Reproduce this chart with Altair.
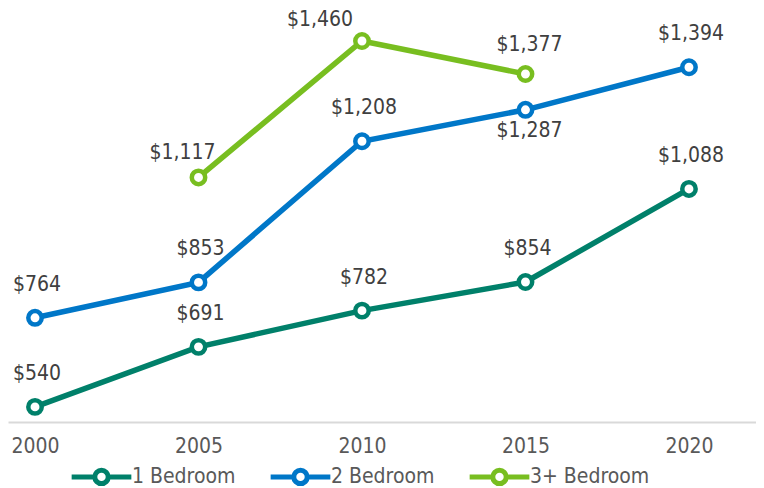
import altair as alt
import pandas as pd

years = [2000, 2005, 2010, 2015, 2020]
series_names = ["1 Bedroom", "2 Bedroom", "3+ Bedroom"]
one_bed = [540, 691, 782, 854, 1088]
two_bed = [764, 853, 1208, 1287, 1394]
three_bed = [None, 1117, 1460, 1377, None]
colors = ["#00806A", "#0077C8", "#78BE20"]

rows = []
for name, vals in zip(series_names, [one_bed, two_bed, three_bed]):
    for y, v in zip(years, vals):
        if v is not None:
            rows.append({"year": y, "series": name, "value": v})
df = pd.DataFrame(rows)

FONT = "DejaVu Sans Condensed, Noto Sans"
FS = 21

x = alt.X("year:Q",
          scale=alt.Scale(domain=[1999.174, 2022.05], nice=False, zero=False),
          axis=alt.Axis(values=years, format="d", title=None, grid=False, ticks=False,
                        domainColor="#D9D9D9", domainWidth=2, labelColor="#595959",
                        labelFont=FONT, labelFontSize=FS, labelPadding=13))
y = alt.Y("value:Q", scale=alt.Scale(domain=[502, 1543], nice=False, zero=False), axis=None)
color_scale = alt.Scale(domain=series_names, range=colors)

legend_path = "M-4.45,0H-1M1,0H4.45M1,0A1,1,0,1,1,-1,0A1,1,0,1,1,1,0"
legend = alt.Legend(title=None, orient="none", direction="horizontal",
                    legendX=83, legendY=458,
                    symbolType=legend_path, symbolSize=159,
                    symbolStrokeWidth=5, symbolFillColor="white",
                    labelFont=FONT, labelFontSize=FS, labelColor="#595959",
                    labelOffset=20, columnPadding=24)

base = alt.Chart(df)

lines = base.mark_line().encode(
    x=x, y=y,
    color=alt.Color("series:N", scale=color_scale, legend=legend),
    strokeWidth=alt.StrokeWidth("series:N", scale=alt.Scale(domain=series_names, range=[5.5, 5.5, 4]), legend=None),
)

points = base.mark_point(filled=False, fill="white", opacity=1).encode(
    x=x, y=y,
    color=alt.Color("series:N", scale=color_scale, legend=legend),
    size=alt.Size("series:N", scale=alt.Scale(domain=series_names, range=[180, 180, 260]), legend=None),
    strokeWidth=alt.StrokeWidth("series:N", scale=alt.Scale(domain=series_names, range=[4.5, 4.5, 6.5]), legend=None),
)

text_enc = dict(x=x, y=y, text=alt.Text("value:Q", format="$,.0f"))
tstyle = dict(font=FONT, fontSize=FS, color="#404040", baseline="middle", align="center")

special = "(datum.series == '3+ Bedroom' && (datum.year == 2005 || datum.year == 2010 || datum.year == 2015)) || (datum.series == '2 Bedroom' && datum.year == 2015)"

labels_main = base.transform_filter("!(" + special + ")").mark_text(dy=-33, dx=2, **tstyle).encode(**text_enc)
labels_below = base.transform_filter("datum.series == '2 Bedroom' && datum.year == 2015").mark_text(dy=21, dx=4, **tstyle).encode(**text_enc)
labels_r = base.transform_filter("datum.series == '3+ Bedroom' && datum.year == 2015").mark_text(dy=-29, dx=4, **tstyle).encode(**text_enc)
labels_l1 = base.transform_filter("datum.series == '3+ Bedroom' && datum.year == 2005").mark_text(dy=-24, dx=-16, **tstyle).encode(**text_enc)
labels_l2 = base.transform_filter("datum.series == '3+ Bedroom' && datum.year == 2010").mark_text(dy=-21, dx=-42, **tstyle).encode(**text_enc)

chart = alt.layer(lines, points, labels_main, labels_below, labels_r, labels_l1, labels_l2).properties(
    width=748, height=414,
    autosize=alt.AutoSizeParams(type="none"),
    padding={"left": 0, "top": 0, "right": 0, "bottom": 66},
).configure_view(stroke=None).resolve_scale(strokeWidth="independent")

chart.save("out.html", embed_options={"renderer": "svg", "actions": False})
